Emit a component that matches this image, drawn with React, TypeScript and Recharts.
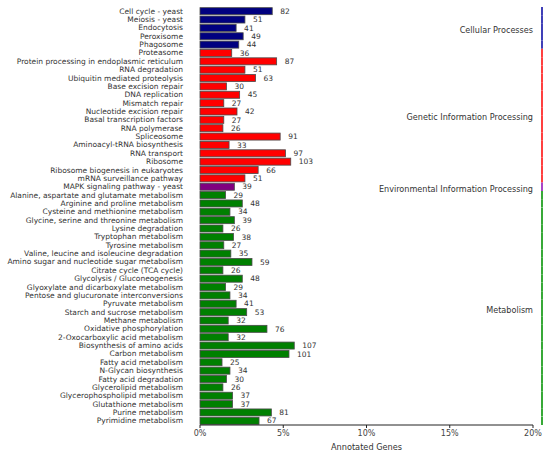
import React from "react";
import { BarChart, Bar, XAxis, YAxis, LabelList } from "recharts";

const categories = [
  "Cell cycle - yeast",
  "Meiosis - yeast",
  "Endocytosis",
  "Peroxisome",
  "Phagosome",
  "Proteasome",
  "Protein processing in endoplasmic reticulum",
  "RNA degradation",
  "Ubiquitin mediated proteolysis",
  "Base excision repair",
  "DNA replication",
  "Mismatch repair",
  "Nucleotide excision repair",
  "Basal transcription factors",
  "RNA polymerase",
  "Spliceosome",
  "Aminoacyl-tRNA biosynthesis",
  "RNA transport",
  "Ribosome",
  "Ribosome biogenesis in eukaryotes",
  "mRNA surveillance pathway",
  "MAPK signaling pathway - yeast",
  "Alanine, aspartate and glutamate metabolism",
  "Arginine and proline metabolism",
  "Cysteine and methionine metabolism",
  "Glycine, serine and threonine metabolism",
  "Lysine degradation",
  "Tryptophan metabolism",
  "Tyrosine metabolism",
  "Valine, leucine and isoleucine degradation",
  "Amino sugar and nucleotide sugar metabolism",
  "Citrate cycle (TCA cycle)",
  "Glycolysis / Gluconeogenesis",
  "Glyoxylate and dicarboxylate metabolism",
  "Pentose and glucuronate interconversions",
  "Pyruvate metabolism",
  "Starch and sucrose metabolism",
  "Methane metabolism",
  "Oxidative phosphorylation",
  "2-Oxocarboxylic acid metabolism",
  "Biosynthesis of amino acids",
  "Carbon metabolism",
  "Fatty acid metabolism",
  "N-Glycan biosynthesis",
  "Fatty acid degradation",
  "Glycerolipid metabolism",
  "Glycerophospholipid metabolism",
  "Glutathione metabolism",
  "Purine metabolism",
  "Pyrimidine metabolism",
];

const geneCounts = [
  82, 51, 41, 49, 44,
  36, 87, 51, 63, 30, 45, 27, 42, 27, 26, 91, 33, 97, 103, 66, 51,
  39,
  29, 48, 34, 39, 26, 38, 27, 35, 59, 26, 48, 29, 34, 41, 53, 32, 76, 32,
  107, 101, 25, 34, 30, 26, 37, 37, 81, 67,
];

const groupOf = [
  0, 0, 0, 0, 0,
  1, 1, 1, 1, 1, 1, 1, 1, 1, 1, 1, 1, 1, 1, 1, 1,
  2,
  3, 3, 3, 3, 3, 3, 3, 3, 3, 3, 3, 3, 3, 3, 3, 3, 3, 3,
  3, 3, 3, 3, 3, 3, 3, 3, 3, 3,
];

const groupNames = [
  "Cellular Processes",
  "Genetic Information Processing",
  "Environmental Information Processing",
  "Metabolism",
];
const barColors = ["#000080", "#ff0000", "#800080", "#008000"];
const lineColors = ["#2b2bb0", "#ff2b2b", "#a030c0", "#22a022"];

const TOTAL_GENES = 1890;
const tickFractions = [0, 0.05, 0.1, 0.15, 0.2];

const data = categories.map((name, i) => ({
  name,
  count: geneCounts[i],
  group: groupOf[i],
}));

const GAP = 0.08;
const FONT = "DejaVu Sans, sans-serif";

const BarShape = (props: any) => {
  const { x, y, width, height, index, background } = props;
  const g = groupOf[index];
  const band = height / (1 - 2 * GAP);
  const bandTop = y - band * GAP;
  const plotRight =
    background && background.width ? background.x + background.width : 533;
  const lineX = plotRight + 9;
  const isFirst = index === 0 || groupOf[index - 1] !== g;
  const groupSize = groupOf.filter((v) => v === g).length;
  return (
    <g>
      <rect
        x={x}
        y={y}
        width={Math.max(width, 0)}
        height={height}
        fill={barColors[g]}
        stroke="#4a4a4a"
        strokeWidth={0.8}
      />
      <line
        x1={lineX}
        x2={lineX}
        y1={bandTop}
        y2={bandTop + band}
        stroke={lineColors[g]}
        strokeWidth={1.8}
      />
      {isFirst && (
        <text
          x={plotRight}
          y={bandTop + (groupSize * band) / 2 + 2}
          textAnchor="end"
          dominantBaseline="central"
          fontSize={8.1}
          fontFamily={FONT}
          fill="#333"
        >
          {groupNames[g]}
        </text>
      )}
    </g>
  );
};

const CategoryTick = (props: any) => {
  const { x, y, payload } = props;
  return (
    <text
      x={x}
      y={y}
      textAnchor="end"
      dominantBaseline="central"
      fontSize={7.5}
      fontFamily={FONT}
      fill="#333"
    >
      {payload.value}
    </text>
  );
};

export default function App() {
  return (
    <div style={{ position: "absolute", left: 0, top: 0, background: "#fff" }}>
      <BarChart
        width={550}
        height={459}
        data={data}
        layout="vertical"
        margin={{ top: 7, right: 17, bottom: 0, left: 0 }}
        barCategoryGap={`${GAP * 100}%`}
      >
        <XAxis
          type="number"
          dataKey="count"
          domain={[0, TOTAL_GENES * 0.2]}
          ticks={tickFractions.map((f) => f * TOTAL_GENES)}
          tickFormatter={(v: number) => `${Math.round((v / TOTAL_GENES) * 100)}%`}
          height={34}
          tickSize={3}
          tickMargin={2}
          axisLine={{ stroke: "#222", strokeWidth: 1 }}
          tickLine={{ stroke: "#222" }}
          tick={{ fontSize: 8, fill: "#444", fontFamily: FONT }}
          label={{
            value: "Annotated Genes",
            position: "insideBottom",
            offset: 9,
            fontSize: 8.2,
            fill: "#333",
            fontFamily: FONT,
          }}
        />
        <YAxis
          type="category"
          dataKey="name"
          width={200}
          interval={0}
          axisLine={false}
          tickLine={false}
          tickSize={0}
          tickMargin={17}
          tick={<CategoryTick />}
        />
        <Bar dataKey="count" isAnimationActive={false} shape={BarShape}>
          <LabelList
            dataKey="count"
            position="right"
            offset={8}
            fontSize={7.5}
            fill="#333"
            fontFamily={FONT}
          />
        </Bar>
      </BarChart>
    </div>
  );
}
